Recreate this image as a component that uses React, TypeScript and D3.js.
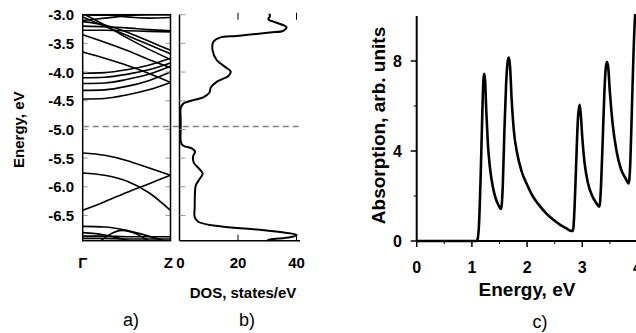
import React from "react";
import * as d3 from "d3";

// ---------- Panel a: band structure (k from Γ=0 to Z=1) ----------
const bandK = [0, 0.25, 0.5, 0.75, 1];
const bandsTop: number[][] = [
  [-2.98, -3.18, -3.4, -3.6, -3.78],
  [-3.04, -3.2, -3.36, -3.52, -3.68],
  [-3.12, -3.18, -3.3, -3.46, -3.62],
  [-3.2, -3.21, -3.23, -3.26, -3.28],
  [-3.27, -3.27, -3.28, -3.29, -3.3],
  [-3.35, -3.48, -3.62, -3.78, -3.92],
  [-3.65, -3.76, -3.88, -4.02, -4.18],
  [-2.97, -2.99, -3.04, -3.06, -3.05],
  [-3.1, -3.06, -3.02, -2.99, -2.97],
  [-3.0, -3.01, -3.0, -3.0, -3.0],
];
const bandsMid: number[][] = [
  [-4.02, -4.01, -3.96, -3.88, -3.76],
  [-4.1, -4.09, -4.04, -3.96, -3.84],
  [-4.2, -4.19, -4.13, -4.04, -3.9],
  [-4.32, -4.31, -4.25, -4.15, -4.0],
  [-4.47, -4.46, -4.4, -4.31, -4.18],
];
const bandsLow: number[][] = [
  [-5.41, -5.45, -5.54, -5.67, -5.8],
  [-5.76, -5.8, -5.9, -6.1, -6.41],
  [-6.41, -6.26, -6.1, -5.95, -5.8],
  [-6.69, -6.7, -6.76, -6.86, -6.98],
  [-6.86, -6.86, -6.87, -6.87, -6.87],
  [-6.9, -6.9, -6.91, -6.91, -6.91],
  [-6.8, -6.84, -6.93, -7.02, -7.1],
];
const vBandK = [0.18, 0.45, 0.78];
const vBandE = [-6.97, -6.76, -6.97];
const energyTicks = [-3.0, -3.5, -4.0, -4.5, -5.0, -5.5, -6.0, -6.5];
const fermiLevel = -4.95;

// ---------- Panel b: DOS ----------
const dosE = [
  -2.98, -3.03, -3.08, -3.14, -3.22, -3.28, -3.31, -3.37, -3.4, -3.47, -3.62, -3.79, -3.91, -3.99, -4.07,
  -4.17, -4.27, -4.36, -4.44, -4.49, -4.55, -4.63, -4.8, -5.0, -5.2, -5.26, -5.29, -5.33, -5.39, -5.46,
  -5.52, -5.59, -5.7, -5.77, -5.87, -5.97, -6.09, -6.35, -6.53, -6.61, -6.69, -6.74, -6.79, -6.84, -6.88,
  -6.92, -6.94,
];
const dosV = [
  30.7, 30.9, 30.4, 33.2, 36.6, 35.5, 30.9, 19.6, 13.8, 11.6, 11.3, 12.7, 15.6, 17.5, 16.7,
  12.7, 10.7, 10.2, 8.1, 4.7, 1.3, 0.4, 0.4, 0.4, 0.4, 0.8, 1.6, 4.2, 5.3, 4.7,
  4.6, 5.0, 7.0, 7.9, 6.8, 5.6, 5.3, 5.2, 5.2, 6.4, 13.8, 25.2, 34.4, 40.1, 37.8,
  31.0, 30.0,
];
const dosTicks = [0, 20, 40];

// ---------- Panel c: absorption ----------
const absE = [
  0, 1.0, 1.08, 1.1, 1.13, 1.16, 1.19, 1.21, 1.225, 1.24, 1.26, 1.29, 1.33, 1.38, 1.43, 1.48, 1.53,
  1.56, 1.59, 1.62, 1.65, 1.67, 1.69, 1.72, 1.76, 1.82, 1.9, 2.0, 2.1, 2.2, 2.3, 2.4, 2.5, 2.6, 2.7,
  2.8, 2.83, 2.86, 2.89, 2.92, 2.95, 2.97, 3.0, 3.04, 3.1, 3.18, 3.25, 3.31, 3.34, 3.37, 3.4, 3.43,
  3.45, 3.47, 3.5, 3.55, 3.62, 3.7, 3.78, 3.84, 3.87, 3.9, 3.93, 3.96, 4.0,
];
const absV = [
  0, 0, 0, 0.05, 0.8, 3.0, 5.8, 7.2, 7.43, 7.1, 5.8, 4.3, 3.2, 2.4, 1.9, 1.6, 1.42,
  2.5, 5.0, 7.0, 8.0, 8.15, 7.8, 6.3, 4.9, 3.9, 3.1, 2.5, 2.0, 1.65, 1.35, 1.1, 0.9, 0.72, 0.58,
  0.45, 0.45, 1.5, 3.5, 5.4, 6.05, 5.7, 4.6, 3.5, 2.6, 2.0, 1.7, 1.52, 2.5, 4.5, 6.6, 7.8,
  7.95, 7.7, 6.6, 5.2, 4.0, 3.2, 2.8, 2.56, 3.5, 6.0, 8.5, 10.2, 11.0,
];
const absYTicks = [0, 4, 8];
const absXTicks = [0, 1, 2, 3, 4];

const FONT = "'Liberation Sans', Arial, sans-serif";

export default function App() {
  // scales
  const yE = d3.scaleLinear().domain([-6.94, -3.0]).range([240.7, 14.7]);
  const xK = d3.scaleLinear().domain([0, 1]).range([82.7, 170.5]);
  const xD = d3.scaleLinear().domain([0, 40]).range([179.5, 296.5]);
  const xC = d3.scaleLinear().domain([0, 4]).range([416.7, 637.5]);
  const yC = d3.scaleLinear().domain([0, 10]).range([241, 16]);

  const bandLine = d3
    .line<[number, number]>()
    .x((d) => xK(d[0]))
    .y((d) => yE(d[1]))
    .curve(d3.curveMonotoneX);
  const allBands = [...bandsTop, ...bandsMid, ...bandsLow].map((b) =>
    b.map((e, i) => [bandK[i], e] as [number, number])
  );
  const vBand = vBandK.map((k, i) => [k, vBandE[i]] as [number, number]);

  const dosLine = d3
    .line<number>()
    .x((_, i) => xD(dosV[i]))
    .y((_, i) => yE(dosE[i]))
    .curve(d3.curveCatmullRom);

  const absLine = d3
    .line<number>()
    .x((_, i) => xC(absE[i]))
    .y((_, i) => yC(absV[i]))
    .curve(d3.curveMonotoneX);

  const aTop = yE(-3.0);
  const aBot = yE(-6.94);

  return (
    <svg
      width={636}
      height={333}
      style={{ position: "absolute", left: 0, top: 0, background: "#fff" }}
      fontFamily={FONT}
    >
      <defs>
        <clipPath id="clipA">
          <rect x={xK(0)} y={aTop} width={xK(1) - xK(0)} height={aBot - aTop} />
        </clipPath>
        <clipPath id="clipB">
          <rect x={xD(0)} y={0} width={140} height={aBot + 1} />
        </clipPath>
        <clipPath id="clipC">
          <rect x={xC(0)} y={yC(10) - 2} width={xC(4) - xC(0)} height={yC(0) - yC(10) + 4} />
        </clipPath>
      </defs>

      {/* ---------- Panel a ---------- */}
      <g clipPath="url(#clipA)">
        {allBands.map((b, i) => (
          <path key={i} d={bandLine(b) || ""} fill="none" stroke="#000" strokeWidth={1.6} />
        ))}
        <path d={bandLine(vBand) || ""} fill="none" stroke="#000" strokeWidth={1.6} />
      </g>
      {energyTicks.map((t) => (
        <g key={t}>
          <line x1={xK(0)} x2={xK(0) + 5} y1={yE(t)} y2={yE(t)} stroke="#999" strokeWidth={1} />
          <line x1={xK(1) - 5} x2={xK(1)} y1={yE(t)} y2={yE(t)} stroke="#999" strokeWidth={1} />
          <text
            x={74}
            y={yE(t)}
            textAnchor="end"
            dominantBaseline="central"
            fontSize={15}
            fontWeight="bold"
          >
            {t.toFixed(1)}
          </text>
        </g>
      ))}
      <rect
        x={xK(0)}
        y={aTop}
        width={xK(1) - xK(0)}
        height={aBot - aTop}
        fill="none"
        stroke="#000"
        strokeWidth={1.5}
      />
      <text
        transform={`translate(24,${(aTop + aBot) / 2 + 2}) rotate(-90)`}
        textAnchor="middle"
        fontSize={15}
        fontWeight="bold"
      >
        Energy, eV
      </text>
      <text x={xK(0)} y={262} textAnchor="middle" dominantBaseline="central" fontSize={15} fontWeight="bold">
        Γ
      </text>
      <text x={173} y={262} textAnchor="end" dominantBaseline="central" fontSize={15} fontWeight="bold">
        Z
      </text>
      <text x={131} y={320} textAnchor="middle" dominantBaseline="central" fontSize={18}>
        a)
      </text>

      {/* ---------- Fermi level dashed ---------- */}
      <line
        x1={xK(0)}
        x2={300}
        y1={yE(fermiLevel)}
        y2={yE(fermiLevel)}
        stroke="#808080"
        strokeWidth={1.5}
        strokeDasharray="6,4"
      />

      {/* ---------- Panel b ---------- */}
      <g clipPath="url(#clipB)">
        <path d={dosLine(dosE) || ""} fill="none" stroke="#000" strokeWidth={2} />
      </g>
      <line x1={xD(0)} x2={xD(0)} y1={aTop} y2={aBot} stroke="#000" strokeWidth={1.5} />
      <line x1={xD(0)} x2={300} y1={aBot} y2={aBot} stroke="#000" strokeWidth={1.5} />
      {energyTicks.map((t) => (
        <line key={t} x1={xD(0)} x2={xD(0) + 6} y1={yE(t)} y2={yE(t)} stroke="#999" strokeWidth={1} />
      ))}
      {dosTicks.map((t) => (
        <g key={t}>
          {t > 0 && (
            <>
              <line x1={xD(t)} x2={xD(t)} y1={aBot} y2={aBot - 6} stroke="#000" strokeWidth={1} />
              <line x1={xD(t)} x2={xD(t)} y1={aTop - 2} y2={aTop + 5} stroke="#000" strokeWidth={1} />
            </>
          )}
          <text
            x={xD(t) + (t === 0 ? 1 : 0)}
            y={262}
            textAnchor="middle"
            dominantBaseline="central"
            fontSize={15}
            fontWeight="bold"
          >
            {t}
          </text>
        </g>
      ))}
      <text x={243} y={292} textAnchor="middle" dominantBaseline="central" fontSize={15} fontWeight="bold">
        DOS, states/eV
      </text>
      <text x={247} y={320} textAnchor="middle" dominantBaseline="central" fontSize={18}>
        b)
      </text>

      {/* ---------- Panel c ---------- */}
      <g clipPath="url(#clipC)">
        <path d={absLine(absE) || ""} fill="none" stroke="#000" strokeWidth={2.6} />
      </g>
      <line x1={xC(0)} x2={xC(0)} y1={yC(10)} y2={yC(0)} stroke="#000" strokeWidth={2} />
      <line x1={xC(0)} x2={xC(4)} y1={yC(0)} y2={yC(0)} stroke="#000" strokeWidth={2} />
      {[2, 6].map((t) => (
        <line key={t} x1={xC(0) - 3} x2={xC(0)} y1={yC(t)} y2={yC(t)} stroke="#000" strokeWidth={1} />
      ))}
      {absYTicks.map((t) => (
        <g key={t}>
          <line x1={xC(0) - 6} x2={xC(0)} y1={yC(t)} y2={yC(t)} stroke="#000" strokeWidth={1.5} />
          <text
            x={402}
            y={yC(t)}
            textAnchor="end"
            dominantBaseline="central"
            fontSize={16}
            fontWeight="bold"
          >
            {t}
          </text>
        </g>
      ))}
      {[0.5, 1.5, 2.5, 3.5].map((t) => (
        <line key={t} x1={xC(t)} x2={xC(t)} y1={yC(0)} y2={yC(0) + 3} stroke="#000" strokeWidth={1} />
      ))}
      {absXTicks.map((t) => (
        <g key={t}>
          <line x1={xC(t)} x2={xC(t)} y1={yC(0)} y2={yC(0) + 6} stroke="#000" strokeWidth={1.5} />
          <text
            x={xC(t)}
            y={267}
            textAnchor="middle"
            dominantBaseline="central"
            fontSize={16}
            fontWeight="bold"
          >
            {t}
          </text>
        </g>
      ))}
      <text
        transform={`translate(385,${(yC(0) + yC(10)) / 2 - 3}) rotate(-90)`}
        textAnchor="middle"
        fontSize={19}
        fontWeight="bold"
      >
        Absorption, arb. units
      </text>
      <text x={527} y={289} textAnchor="middle" dominantBaseline="central" fontSize={19} fontWeight="bold">
        Energy, eV
      </text>
      <text x={540} y={322} textAnchor="middle" dominantBaseline="central" fontSize={18}>
        c)
      </text>
    </svg>
  );
}
